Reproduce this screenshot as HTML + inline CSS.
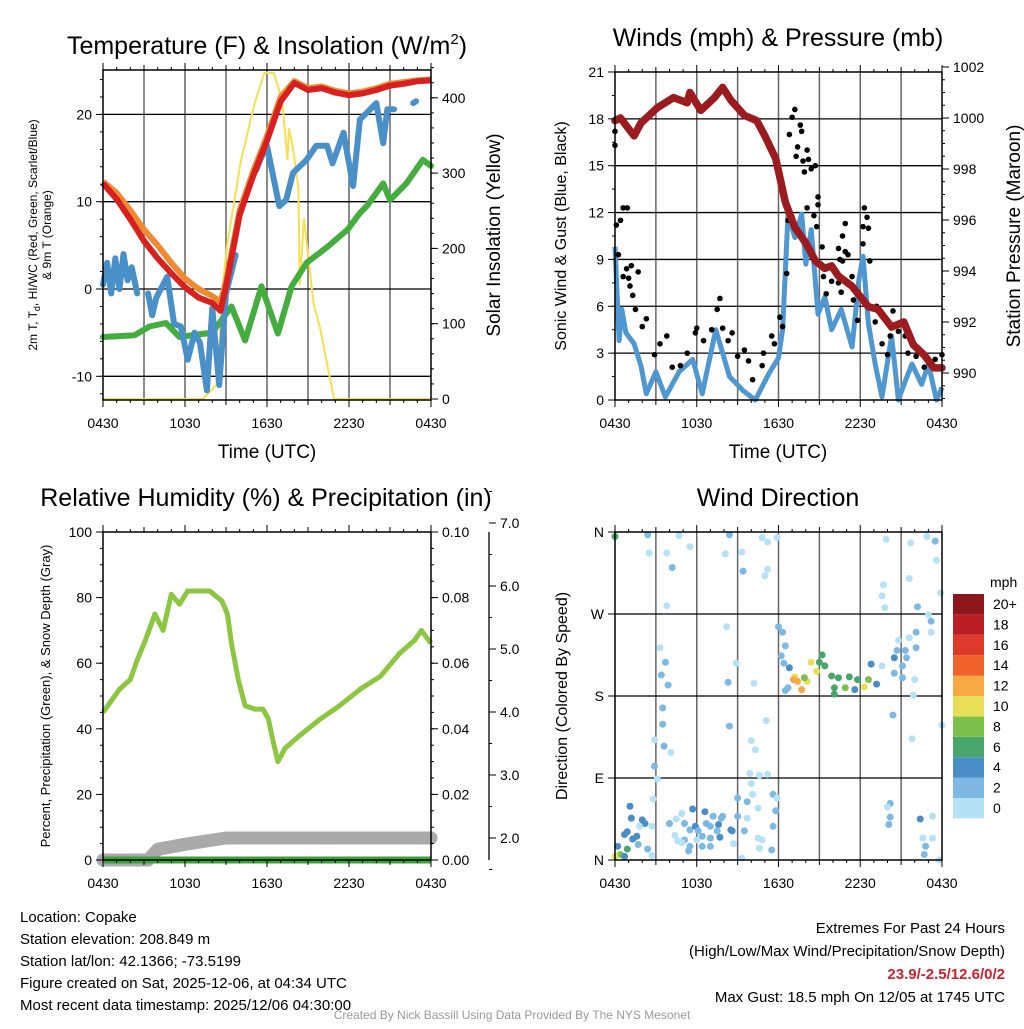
<!DOCTYPE html>
<html><head><meta charset="utf-8">
<style>
body{margin:0;background:#fff}
svg text{font-family:"Liberation Sans",sans-serif;fill:#000}
</style></head>
<body>
<svg id="c" width="1024" height="1024" viewBox="0 0 1024 1024" xmlns="http://www.w3.org/2000/svg">
<rect width="1024" height="1024" fill="#fff"/>
<g id="g1"></g>
<g id="g2"></g>
<g id="g3"></g>
<g id="g4"></g>
<text x="267" y="54" font-size="25" text-anchor="middle">Temperature (F) &amp; Insolation (W/m<tspan font-size="15" dy="-10">2</tspan><tspan dy="10">)</tspan></text>
<text x="778" y="46" font-size="25" text-anchor="middle">Winds (mph) &amp; Pressure (mb)</text>
<text x="266" y="506" font-size="25" text-anchor="middle">Relative Humidity (%) &amp; Precipitation (in)</text>
<text x="778" y="506" font-size="25" text-anchor="middle">Wind Direction</text>
<text x="267" y="458" font-size="19" text-anchor="middle">Time (UTC)</text>
<text x="778" y="458" font-size="19" text-anchor="middle">Time (UTC)</text>
<text font-size="12" text-anchor="middle" transform="translate(37,235) rotate(-90)">2m T, T<tspan font-size="9" dy="3">d</tspan><tspan dy="-3">, HI/WC (Red, Green, Scarlet/Blue)</tspan></text>
<text font-size="12" text-anchor="middle" transform="translate(51,235) rotate(-90)">&amp; 9m T (Orange)</text>
<text font-size="19" text-anchor="middle" transform="translate(500,235) rotate(-90)">Solar Insolation (Yellow)</text>
<text font-size="16" text-anchor="middle" transform="translate(566,236) rotate(-90)">Sonic Wind &amp; Gust (Blue, Black)</text>
<text font-size="19" text-anchor="middle" transform="translate(1020,236) rotate(-90)">Station Pressure (Maroon)</text>
<text font-size="13" text-anchor="middle" transform="translate(50,696) rotate(-90)">Percent, Precipitation (Green), &amp; Snow Depth (Gray)</text>
<text font-size="16" text-anchor="middle" transform="translate(567,696) rotate(-90)">Direction (Colored By Speed)</text>
<g font-size="15">
<text x="20" y="922">Location: Copake</text>
<text x="20" y="944">Station elevation: 208.849 m</text>
<text x="20" y="966">Station lat/lon: 42.1366; -73.5199</text>
<text x="20" y="988">Figure created on Sat, 2025-12-06, at 04:34 UTC</text>
<text x="20" y="1010">Most recent data timestamp: 2025/12/06 04:30:00</text>
</g>
<g font-size="15" text-anchor="end">
<text x="1005" y="933">Extremes For Past 24 Hours</text>
<text x="1005" y="956">(High/Low/Max Wind/Precipitation/Snow Depth)</text>
<text x="1005" y="979" font-weight="bold" style="fill:#d0202a">23.9/-2.5/12.6/0/2</text>
<text x="1005" y="1002">Max Gust: 18.5 mph On 12/05 at 1745 UTC</text>
</g>
<text x="512" y="1019" font-size="12" text-anchor="middle" style="fill:#999">Created By Nick Bassill Using Data Provided By The NYS Mesonet</text>
</svg>
<script>
// ---------- data ----------
var xTickLabels=["0430","1030","1630","2230","0430"];
var tempHours=[0,1,2,3,4,5,6,7,8,8.6,9,10,11,12,13,14,15,16,17,18,19,20,21,22,23,24];
var tempRed=[12.1,10.3,8,5.5,3.5,1.8,0.2,-1,-1.6,-2.5,0.3,8.5,13,17,21.5,23.6,22.8,23,22.5,22.2,22.4,22.8,23.3,23.5,23.8,23.9];
var tempOrange=[12.3,11,9,6.8,5,3,1.2,0,-0.8,-1.5,0.8,9,13.5,17.5,22,23.8,23,23.2,22.7,22.4,22.6,23,23.5,23.7,23.9,24];
var dewHours=[0,2.3,3.4,4.6,5.6,8,9.4,10.4,11.6,12.8,13.8,14.9,16.4,17.9,18.8,19.3,20.5,21,22.2,23.4,24];
var dewGreen=[-5.5,-5.3,-4.3,-3.9,-5.5,-5,-2,-5.9,0.3,-5.1,0.3,3,4.8,6.8,8.7,9.5,12.1,10.2,12.1,14.8,14.1];
var wcHours=[0,0.3,0.6,0.9,1.2,1.5,1.8,2.1,2.5,null,3.3,3.6,3.9,4.7,5.2,5.7,6.2,6.7,7.1,7.6,8,8.5,9,9.7,null,11.2,11.5,12,12.9,13.4,13.9,14.9,15.6,16.4,16.8,17.6,18.3,18.8,19.3,20,20.5,20.8,21.3,null,22.7,22.9];
var wcBlue=[0.5,3,-0.5,3.5,0,4,1,2.5,-0.5,null,-0.5,-3,-1,1.4,-4,-4.3,-8.1,-5,-6.2,-11.6,-2.2,-11,-0.5,3.9,null,13.6,14.8,16.4,9.5,10.2,13.3,14.8,16.4,16.4,14.4,17.9,11.8,19.4,20.2,21.3,16.7,20.6,20.6,null,21.3,21.5];
var solarHours=[0,7.3,8.3,8.5,8.7,9.1,10.1,11.1,11.8,12.5,13.1,13.5,13.6,13.9,14.3,14.4,14.7,15,15.4,15.9,16.9,24];
var solarVals=[0,0,19,60,141,207,317,393,433,433,398,317,360,333,280,151,240,193,127,93,0,0];
var pressHours=[0,0.4,1.4,1.9,3.1,4.3,5.3,5.5,6.3,7.3,7.9,8.5,9.5,10.4,11,11.8,12.5,13.2,14,14.7,15.4,15.9,16.4,17.4,18.6,19.3,20.3,21.2,21.9,22.7,23.4,24];
var pressVals=[999.9,1000,999.3,999.8,1000.4,1000.8,1000.6,1001,1000.3,1000.8,1001.2,1000.7,1000.1,999.9,999.3,998.4,996.7,995.7,995.1,994.4,994.1,994.2,993.8,993.4,992.6,992.5,991.8,992,991.1,990.7,990.2,990.2];
var windHours=[0,0.3,0.5,0.8,1.4,1.9,2.3,3,3.7,4.7,5.7,6.4,7.4,8.4,9.4,10.3,11.3,12,12.3,12.7,13.2,13.7,14,14.4,14.9,15.4,15.9,16.6,17.4,17.9,18.2,18.6,19.1,19.6,20.3,20.8,21.3,21.8,22.5,23,23.6,24];
var windVals=[9.8,3.8,5.8,4.3,3.6,2.2,0.4,1.8,0.2,1.8,2.6,0.4,4.5,1.5,0.6,0,1.7,2.7,4.5,11.9,10.4,11.9,8.7,10.9,5.5,6.6,4.5,5.8,3.4,7.7,9.2,4.9,2.3,0.2,4.1,0,1.2,2.3,1,2.3,0,0.8];
var gustHours=[0,0,0.1,0.4,0.6,0.9,0.25,0.85,1.2,1.7,0.6,1,1.1,1.3,1.5,2,2.3,2.9,3.3,3.8,4.2,4.8,5.3,5.9,6,6.5,7.1,7.5,7.7,7.9,8.3,8.6,9,9.5,9.8,10.1,10.8,10.9,11.5,11.7,12.1,12.3,12.6,12.7,12.8,13,13.2,13.6,13.7,13.4,14.1,13.3,13.8,14.2,13.9,14.4,14.7,14.9,14.9,14.1,14.6,14.8,15.2,15.3,15.5,15.9,16.4,16.6,16.9,16.7,16.4,16.9,17.1,16.5,16.7,17.4,17.5,17.8,18.3,18.5,18.2,18.6,18.2,18.7,19.2,19.1,19.6,20,20.4,20.8,21.3,21.5,22.1,22.4,24,22.7,23.5,20.2];
var gustVals=[17.2,16.3,11.2,11.5,12.3,12.3,9.3,8.4,8.6,8.2,7.9,7.8,7.3,6.7,5.8,4.7,5.2,2.9,3.6,4.1,2.1,2.2,3,4.3,4.6,3.8,4.5,5.8,6.5,4.6,3.8,4.3,2.8,3.2,2.5,1.3,2.2,3,4.1,3.6,5.3,4.7,8.1,11.5,17,18.1,18.6,17.6,17.2,16.2,16,15.6,15.3,15.4,14.6,14.8,15,13,12.5,12.3,11.8,11.1,9.8,7.9,6.8,7.6,7.5,6.9,11.3,10.5,9.7,9.5,9.3,9,8.9,7.9,6.4,5.1,12.3,11.7,11.1,11,10,8.9,6,5,3.6,2.9,5.7,4.4,4.1,3,2.8,3.1,2.9,2.1,2.6,4.1];
var rhHours=[0,1.2,2,2.5,3.1,3.8,4.4,5,5.6,6.2,7.1,7.8,8.7,9.1,9.4,9.9,10.4,11.1,11.7,12.1,12.4,12.8,13.3,14.4,15.9,17.3,18.8,20.3,21.7,22.8,23.3,24];
var rhVals=[45,52,55,61,67,75,70,81,78,82,82,82,79,75,66,55,47,46,46,43,37,30,34,38,43,47,52,56,63,67,70,66];
var snowHours=[0,3.3,4,6,9,24];
var snowVals=[1.65,1.65,1.82,1.9,2.0,2.0];
var precipHours=[0,24];
var precipVals=[0,0];
var dirHours=[0,2.4,4.7,5.5,8.4,10.8,11.2,11.9,2.5,3.8,4.2,8.1,9.3,9.4,11,11.2,3.8,19.9,21.7,22.9,23.5,23.6,23.9,21.6,19.7,19.6,19.8,22.2,23,23.2,23.2,
8.2,12,12.3,12.5,12.2,12.4,12.8,3.3,3.7,3.4,3.9,8.9,8.3,10.2,14.4,15.2,15,14.8,13.2,13.1,13.4,13.7,14.1,13.9,12.7,12.5,15.4,15.9,16.4,17.2,17.8,18.6,18.3,16.1,16.9,17.6,16.1,18.8,19.2,19.6,20.5,20.7,20.8,21.3,21.4,21.6,22.1,22.1,21.1,20.5,21.1,22,21.9,20.4,21.8,24,
3.5,3.5,2.9,3.6,4.1,2.9,3.1,2.8,8.4,11.1,10,10.3,9.9,10.6,11.2,10,10.1,9,9.7,11.6,11.9,11.8,10.5,9.7,9,9.5,8.6,8.7,10.5,10.8,10.6,11.5,11.6,9.3,
1.1,1.2,2,2.2,1.8,0.9,0.7,1.6,1.3,1.7,0.2,0.9,0.4,0,0.7,2.7,2.4,2.7,
4,4.5,4.9,5.7,5.1,5.5,4.4,4.6,5.1,5.5,5.4,5.9,6.1,6.4,6.6,6.7,7,7.2,7.6,7.8,7.9,7.7,7,7,6.4,6,4.9,7.5,8.5,
20.2,20,20.2,20.1,22.4,23.3,22.6,23.3,22.8,22.7,23.8];
var dirVals=[355,357,356,344,357,354,349,354,337,337,321,336,338,317,312,319,279,352,348,355,350,329,293,309,302,290,277,278,269,262,250,
256,256,250,235,224,216,211,233,217,203,192,216,195,194,217,225,217,207,201,198,196,187,196,200,189,186,213,202,200,201,198,198,190,189,189,187,182,215,193,213,222,230,241,230,222,244,250,233,213,205,200,198,181,159,133,148,
167,149,132,125,118,103,89,67,147,153,131,121,95,93,94,84,72,68,64,72,68,54,57,46,48,32,32,18,24,22,13,11,37,2,
59,46,44,40,37,31,28,26,23,17,15,12,6,4,4,37,12,5,
40,45,51,56,40,33,27,21,22,15,10,37,32,26,53,40,37,48,39,46,48,25,24,15,15,22,19,32,33,
62,58,47,39,45,48,24,24,15,6,0];
var dirSpeeds=[7,3,1,1,3,1,1,1,1,1,3,1,1,3,1,1,1,1,1,1,3,1,1,1,1,1,1,3,1,3,1,
1,3,3,3,3,3,5,1,3,3,3,1,3,1,11,7,7,11,11,13,13,13,11,9,3,3,7,7,7,7,7,9,11,7,9,5,7,5,5,1,5,3,1,3,3,1,3,3,3,3,3,1,1,3,1,1,
3,3,1,3,1,3,1,1,3,1,1,1,1,1,1,1,1,3,3,3,1,3,1,1,3,3,5,1,1,1,1,3,3,1,
5,5,5,5,1,5,5,5,5,3,5,7,9,11,5,1,3,1,
3,1,1,5,3,3,1,1,3,3,3,5,3,3,5,3,3,3,5,3,3,5,3,3,3,1,1,3,5,
3,1,3,3,5,1,1,1,3,3,1];
var speedBins=["0","2","4","6","8","10","12","14","16","18","20+"];
var binColors=["#b5e2f7","#7db9e3","#4a8ec7","#48a56c","#7cc04b","#e6df57","#f6a942","#ef6229","#de3a2b","#bc1e25","#8c1619"];

// ---------- helpers ----------
var NS="http://www.w3.org/2000/svg";
function mk(parent,tag,attrs){var e=document.createElementNS(NS,tag);for(var k in attrs)e.setAttribute(k,attrs[k]);parent.appendChild(e);return e;}
function txt(parent,x,y,s,size,anchor){var t=mk(parent,"text",{x:x,y:y,"font-size":size,"text-anchor":anchor||"start"});t.textContent=s;return t;}
function pathFrom(xs,ys,fx,fy){var d="",pen=false;for(var i=0;i<xs.length;i++){if(xs[i]===null||ys[i]===null){pen=false;continue;}d+=(pen?"L":"M")+fx(xs[i]).toFixed(1)+","+fy(ys[i]).toFixed(1);pen=true;}return d;}
function frame(g,x0,x1,y0,y1,vgrid,hgridVals,fy){
  if(vgrid){for(var h=3;h<24;h+=3){var x=x0+(x1-x0)*h/24;var l=mk(g,"line",{x1:x,x2:x,y1:y0,y2:y1,stroke:"#666","stroke-width":1.5});
  
  }}
  hgridVals.forEach(function(v){var y=fy(v);var l=mk(g,"line",{x1:x0,x2:x1,y1:y,y2:y,stroke:"#000","stroke-width":1.3});
  
  });
}
function border(g,x0,x1,y0,y1){var r=mk(g,"rect",{x:x0,y:y0,width:x1-x0,height:y1-y0,fill:"none",stroke:"#000","stroke-width":1.5});


for(var h=0;h<=24;h+=1){var x=x0+(x1-x0)*h/24;var len=(h%6==0)?7:(h%3==0?5:3);mk(g,"line",{x1:x,x2:x,y1:y1,y2:y1+len,stroke:"#000","stroke-width":1});mk(g,"line",{x1:x,x2:x,y1:y0,y2:y0-len,stroke:"#000","stroke-width":1});}
for(var i=0;i<xTickLabels.length;i++){var t=txt(g,x0+(x1-x0)*i/4,y1+28,xTickLabels[i],14,"middle");

}}
function yTicks(g,xAxis,vals,labels,fy,side,minorStep,minV,maxV){
  var dir=side==="left"?-1:1;
  if(minorStep){for(var v=minV;v<=maxV+1e-9;v+=minorStep){var y=fy(v);mk(g,"line",{x1:xAxis,x2:xAxis+dir*3,y1:y,y2:y,stroke:"#000","stroke-width":1});}}
  for(var i=0;i<vals.length;i++){var y=fy(vals[i]);mk(g,"line",{x1:xAxis,x2:xAxis+dir*7,y1:y,y2:y,stroke:"#000","stroke-width":1});
  var t=txt(g,xAxis+dir*11,y+5,labels[i],14,side==="left"?"end":"start");
  
  }
}

// ---------- panel 1 ----------
(function(){
var g=document.getElementById("g1"),x0=103,x1=431,y0=70,y1=400;
var fx=function(h){return x0+(x1-x0)*h/24;};
var fy=function(t){return 289-t*8.73;};
var fs=function(s){return 399-s*0.753;};
frame(g,x0,x1,y0,y1,true,[20,10,0,-10],fy);
var s;
s=mk(g,"path",{d:pathFrom(solarHours,solarVals,fx,fs),fill:"none",stroke:"#f8e04e","stroke-width":2});


s=mk(g,"path",{d:pathFrom(dewHours,dewGreen,fx,fy),fill:"none",stroke:"#43ad3e","stroke-width":6,"stroke-linejoin":"round","stroke-linecap":"round"});


s=mk(g,"path",{d:pathFrom(wcHours,wcBlue,fx,fy),fill:"none",stroke:"#4a90c8","stroke-width":6,"stroke-linejoin":"round","stroke-linecap":"round"});


s=mk(g,"path",{d:pathFrom(tempHours,tempOrange,fx,fy),fill:"none",stroke:"#f08a30","stroke-width":6,"stroke-linejoin":"round"});


s=mk(g,"path",{d:pathFrom(tempHours,tempRed,fx,fy),fill:"none",stroke:"#d7201f","stroke-width":6,"stroke-linejoin":"round"});


border(g,x0,x1,y0,y1);
yTicks(g,x0,[20,10,0,-10],["20","10","0","-10"],fy,"left",2,-12,24);
yTicks(g,x1,[0,100,200,300,400],["0","100","200","300","400"],fs,"right",20,0,440);
})();

// ---------- panel 2 ----------
(function(){
var g=document.getElementById("g2"),x0=615,x1=942,y0=72,y1=400;
var fx=function(h){return x0+(x1-x0)*h/24;};
var fy=function(w){return 400-w*15.62;};
var fp=function(p){return 118+(1000-p)*25.5;};
frame(g,x0,x1,y0,y1,true,[3,6,9,12,15,18],fy);
var s=mk(g,"path",{d:pathFrom(windHours,windVals,fx,fy),fill:"none",stroke:"#4e97d1","stroke-width":5,"stroke-linejoin":"round"});


for(var i=0;i<gustHours.length;i++){var c=mk(g,"circle",{cx:fx(gustHours[i]),cy:fy(gustVals[i]),r:2.8,fill:"#000"});

}
s=mk(g,"path",{d:pathFrom(pressHours,pressVals,fx,fp),fill:"none",stroke:"#9b1b1f","stroke-width":7.5,"stroke-linejoin":"round","stroke-linecap":"round"});


border(g,x0,x1,y0,y1);
yTicks(g,x0,[0,3,6,9,12,15,18,21],["0","3","6","9","12","15","18","21"],fy,"left",1.5,0,21);
yTicks(g,x1,[990,992,994,996,998,1000,1002],["990","992","994","996","998","1000","1002"],fp,"right",0.5,989,1002);
})();

// ---------- panel 3 ----------
(function(){
var g=document.getElementById("g3"),x0=103,x1=431,y0=532,y1=860;
var fx=function(h){return x0+(x1-x0)*h/24;};
var fy=function(v){return 860-v*3.28;};
var fpr=function(p){return 860-p*3280;};
var fsd=function(s){return 838-(s-2)*63;};
var s=mk(g,"path",{d:pathFrom(snowHours,snowVals,fx,fsd),fill:"none",stroke:"#aaa","stroke-width":13,"stroke-linejoin":"round","stroke-linecap":"round"});


s=mk(g,"path",{d:pathFrom(precipHours,precipVals,fx,fpr),fill:"none",stroke:"#3aa33a","stroke-width":7});


s=mk(g,"path",{d:pathFrom(rhHours,rhVals,fx,fy),fill:"none",stroke:"#8dc640","stroke-width":5,"stroke-linejoin":"round"});


border(g,x0,x1,y0,y1);
yTicks(g,x0,[0,20,40,60,80,100],["0","20","40","60","80","100"],fy,"left",5,0,100);
yTicks(g,x1,[0,0.02,0.04,0.06,0.08,0.1],["0.00","0.02","0.04","0.06","0.08","0.10"],fpr,"right",0.005,0,0.1);
var ax=mk(g,"line",{x1:489,x2:489,y1:532,y2:860,stroke:"#000","stroke-width":1.3});


yTicks(g,489,[2,3,4,5,6,7],["2.0","3.0","4.0","5.0","6.0","7.0"],fsd,"right",0.5,1.5,7.5);
})();

// ---------- panel 4 ----------
(function(){
var g=document.getElementById("g4"),x0=615,x1=942,y0=532,y1=860;
var fx=function(h){return x0+(x1-x0)*h/24;};
var fy=function(d){return 860-d*328/360;};
frame(g,x0,x1,y0,y1,true,[90,180,270],fy);
for(var i=0;i<dirHours.length;i++){var b=Math.min(10,Math.floor(dirSpeeds[i]/2));
var c=mk(g,"circle",{cx:fx(dirHours[i]),cy:fy(dirVals[i]),r:3.5,fill:binColors[b]});

}
border(g,x0,x1,y0,y1);
yTicks(g,x0,[0,90,180,270,360],["N","E","S","W","N"],fy,"left",null);
txt(g,990,587,"mph",14,"start");
for(var k=0;k<speedBins.length;k++){var y=798-k*20.4;
var r=mk(g,"rect",{x:953,y:y,width:31,height:20.4,fill:binColors[k]});


var t=txt(g,993,y+15,speedBins[k],14,"start");

}
})();
</script>
</body></html>
